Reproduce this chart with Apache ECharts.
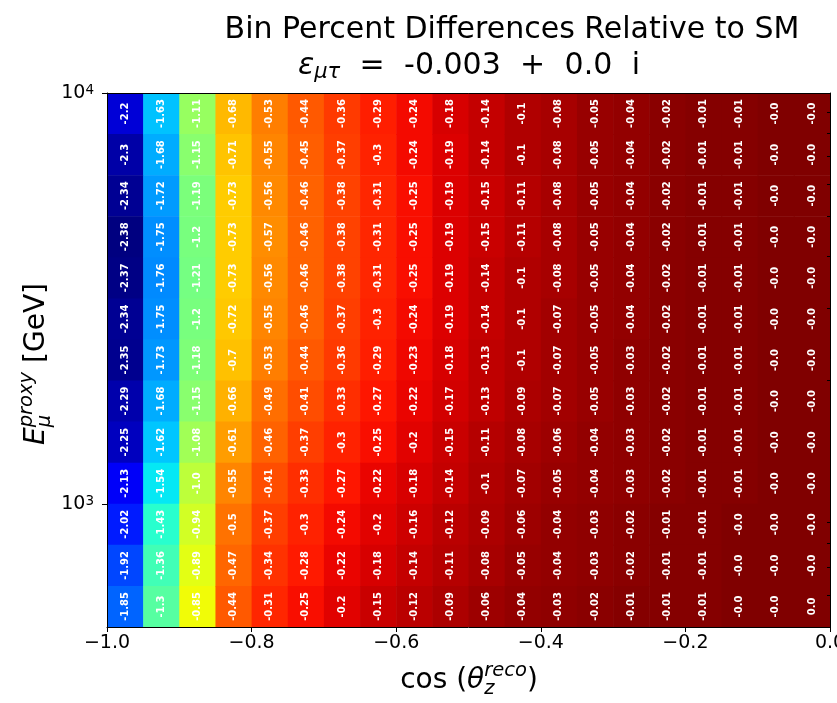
<!DOCTYPE html>
<html><head><meta charset="utf-8">
<script src="https://cdn.jsdelivr.net/npm/echarts@6/dist/echarts.min.js"></script>
<style>html,body{margin:0;padding:0;background:#fff}#c{width:837px;height:703px}</style>
</head><body><div id="c"></div>
<script>
// ---- data ----
const cosEdges = [-1.0,-0.95,-0.9,-0.85,-0.8,-0.75,-0.7,-0.65,-0.6,-0.55,-0.5,-0.45,-0.4,-0.35,-0.3,-0.25,-0.2,-0.15,-0.1,-0.05,0.0];
const logEnergyEdges = [2.7,2.8,2.9,3.0,3.1,3.2,3.3,3.4,3.5,3.6,3.7,3.8,3.9,4.0];
const yMajorTicks = [1000, 10000];
const yMinorTicks = [600,700,800,900,2000,3000,4000,5000,6000,7000,8000,9000];
const xTicks = [-1.0,-0.8,-0.6,-0.4,-0.2,0.0];
// each column listed from the top row (highest energy) to the bottom row
const col00 = [-2.2,-2.3,-2.34,-2.38,-2.37,-2.34,-2.35,-2.29,-2.25,-2.13,-2.02,-1.92,-1.85];
const col01 = [-1.63,-1.68,-1.72,-1.75,-1.76,-1.75,-1.73,-1.68,-1.62,-1.54,-1.43,-1.36,-1.3];
const col02 = [-1.11,-1.15,-1.19,-1.2,-1.21,-1.2,-1.18,-1.15,-1.08,-1.0,-0.94,-0.89,-0.85];
const col03 = [-0.68,-0.71,-0.73,-0.73,-0.73,-0.72,-0.7,-0.66,-0.61,-0.55,-0.5,-0.47,-0.44];
const col04 = [-0.53,-0.55,-0.56,-0.57,-0.56,-0.55,-0.53,-0.49,-0.46,-0.41,-0.37,-0.34,-0.31];
const col05 = [-0.44,-0.45,-0.46,-0.46,-0.46,-0.46,-0.44,-0.41,-0.37,-0.33,-0.3,-0.28,-0.25];
const col06 = [-0.36,-0.37,-0.38,-0.38,-0.38,-0.37,-0.36,-0.33,-0.3,-0.27,-0.24,-0.22,-0.2];
const col07 = [-0.29,-0.3,-0.31,-0.31,-0.31,-0.3,-0.29,-0.27,-0.25,-0.22,-0.2,-0.18,-0.15];
const col08 = [-0.24,-0.24,-0.25,-0.25,-0.25,-0.24,-0.23,-0.22,-0.2,-0.18,-0.16,-0.14,-0.12];
const col09 = [-0.18,-0.19,-0.19,-0.19,-0.19,-0.19,-0.18,-0.17,-0.15,-0.14,-0.12,-0.11,-0.09];
const col10 = [-0.14,-0.14,-0.15,-0.15,-0.14,-0.14,-0.13,-0.13,-0.11,-0.1,-0.09,-0.08,-0.06];
const col11 = [-0.1,-0.1,-0.11,-0.11,-0.1,-0.1,-0.1,-0.09,-0.08,-0.07,-0.06,-0.05,-0.04];
const col12 = [-0.08,-0.08,-0.08,-0.08,-0.08,-0.07,-0.07,-0.07,-0.06,-0.05,-0.04,-0.04,-0.03];
const col13 = [-0.05,-0.05,-0.05,-0.05,-0.05,-0.05,-0.05,-0.05,-0.04,-0.04,-0.03,-0.03,-0.02];
const col14 = [-0.04,-0.04,-0.04,-0.04,-0.04,-0.04,-0.03,-0.03,-0.03,-0.03,-0.02,-0.02,-0.01];
const col15 = [-0.02,-0.02,-0.02,-0.02,-0.02,-0.02,-0.02,-0.02,-0.02,-0.02,-0.01,-0.01,-0.01];
const col16 = [-0.01,-0.01,-0.01,-0.01,-0.01,-0.01,-0.01,-0.01,-0.01,-0.01,-0.01,-0.01,-0.01];
const col17 = [-0.01,-0.01,-0.01,-0.01,-0.01,-0.01,-0.01,-0.01,-0.01,-0.01,-0.0,-0.0,-0.0];
const col18 = [-0.0,-0.0,-0.0,-0.0,-0.0,-0.0,-0.0,-0.0,-0.0,-0.0,-0.0,-0.0,-0.0];
const col19 = [-0.0,-0.0,-0.0,-0.0,-0.0,-0.0,-0.0,-0.0,-0.0,-0.0,-0.0,-0.0,0.0];
const colorMin = -2.38, colorMax = 0.0;

// ---- build ----
const columns = [col00,col01,col02,col03,col04,col05,col06,col07,col08,col09,col10,col11,col12,col13,col14,col15,col16,col17,col18,col19];
const nRows = logEnergyEdges.length - 1;
const cells = [];
columns.forEach((col, c) => {
  col.forEach((v, r) => {
    const rb = nRows - 1 - r;
    cells.push([cosEdges[c], cosEdges[c+1], Math.pow(10, logEnergyEdges[rb]), Math.pow(10, logEnergyEdges[rb+1]), v]);
  });
});
function fmt(v){
  const neg = v < 0 || Object.is(v, -0);
  const a = Math.abs(v);
  return (neg ? '-' : '') + (a % 1 === 0 ? a.toFixed(1) : String(a));
}
// matplotlib jet colormap
function seg(pts, t){
  for (let i=1;i<pts.length;i++){ if (t <= pts[i][0]) { const [x0,y0]=pts[i-1],[x1,y1]=pts[i]; return y0+(y1-y0)*(t-x0)/(x1-x0);} }
  return pts[pts.length-1][1];
}
const R=[[0,0],[0.35,0],[0.66,1],[0.89,1],[1,0.5]], G=[[0,0],[0.125,0],[0.375,1],[0.64,1],[0.91,0],[1,0]], B=[[0,0.5],[0.11,1],[0.34,1],[0.65,0],[1,0]];
const jet = [];
for (let i=0;i<=64;i++){ const t=i/64; const h=x=>Math.round(Math.max(0,Math.min(1,x))*255).toString(16).padStart(2,'0'); jet.push('#'+h(seg(R,t))+h(seg(G,t))+h(seg(B,t))); }

const FONT = 'DejaVu Sans';
const mctx = document.createElement('canvas').getContext('2d');
function tw(str, size, italic){ mctx.font = (italic?'italic ':'') + size + 'px "' + FONT + '"'; return mctx.measureText(str).width; }
function T(text, x, y, size, italic, extra){ return Object.assign({type:'text', x, y, style:{text, fill:'#000', font:(italic?'italic ':'')+size+'px "'+FONT+'"', align:'left', verticalAlign:'middle'}}, extra||{}); }

const chart = echarts.init(document.getElementById('c'), null, {renderer:'canvas', width:837, height:703});

// title pieces
const TS = 30, TSS = 21;
const title1 = 'Bin Percent Differences Relative to SM';
const t2a = 'ε', t2b = 'μτ';
const t2words = ['=', '-0.003', '+', '0.0', 'i'];
const t2W = 342, t2cx = 469;
let t2sum = tw(t2a,TS,true) + tw(t2b,TSS,true);
t2words.forEach(w => t2sum += tw(w,TS,false));
const t2gap = (t2W - t2sum) / t2words.length;
const title2 = [];
let tx = t2cx - t2W/2;
title2.push(T(t2a, tx, 66, TS, true)); tx += tw(t2a,TS,true);
title2.push(T(t2b, tx, 73, TSS, true)); tx += tw(t2b,TSS,true);
t2words.forEach(w => { tx += t2gap; title2.push(T(w, tx, 66, TS, false)); tx += tw(w,TS,false); });
// x label pieces
const LS = 28, LSS = 19.5;
const xa = 'cos (', xb = 'θ', xsub = 'z', xsup = 'reco', xc = ')';
const wxa = tw(xa,LS,false), wxb = tw(xb,LS,true), wsup = Math.max(tw(xsub,LSS,true), tw(xsup,LSS,true));
const wx = wxa + wxb + wsup + tw(xc,LS,false);
const lx0 = 469 - wx/2;
// y label pieces
const ya = 'E', ysub = 'μ', ysup = 'proxy', yc = ' [GeV]';
const wya = tw(ya,LS,true), wysup = Math.max(tw(ysub,LSS,true), tw(ysup,LSS,true));
const wy = wya + wysup + tw(yc,LS,false);
const ly0 = -wy/2;

const option = {
  backgroundColor:'#fff',
  animation:false,
  grid:{left:107, right:7, top:93, bottom:76, containLabel:false, outerBoundsMode:'none'},
  visualMap:{type:'continuous', show:false, dimension:4, min:colorMin, max:colorMax, inRange:{color:jet}, seriesIndex:0},
  xAxis:[
    {type:'value', min:-1, max:0, interval:0.2, position:'bottom', z:10,
     axisLine:{show:true, onZero:false, lineStyle:{color:'#000', width:1}},
     axisTick:{show:true, length:5, lineStyle:{color:'#000', width:1}, customValues:xTicks},
     axisLabel:{show:true, color:'#000', fontSize:19, fontFamily:FONT, margin:7, customValues:xTicks, hideOverlap:false,
       formatter:v => (v<0?'\u2212':'') + Math.abs(v).toFixed(1)},
     splitLine:{show:false}},
    {type:'value', min:-1, max:0, position:'top', z:10,
     axisLine:{show:true, onZero:false, lineStyle:{color:'#000', width:1}},
     axisTick:{show:false}, axisLabel:{show:false}, splitLine:{show:false}}
  ],
  yAxis:[
    {type:'log', logBase:10, min:Math.pow(10,logEnergyEdges[0]), max:Math.pow(10,logEnergyEdges[nRows]), position:'left', z:10,
     axisLine:{show:true, onZero:false, lineStyle:{color:'#000', width:1}},
     axisTick:{show:true, length:5, lineStyle:{color:'#000', width:1}, customValues:yMajorTicks},
     axisLabel:{show:true, color:'#000', fontFamily:FONT, margin:13, customValues:yMajorTicks,
       formatter:v => '{b|10}{s|' + (v >= 9999 ? '4' : '3') + '}',
       rich:{b:{fontSize:19, fontFamily:FONT, color:'#000', lineHeight:19, verticalAlign:'bottom'},
             s:{fontSize:13.5, fontFamily:FONT, color:'#000', lineHeight:14, padding:[0,0,12,0], verticalAlign:'top'}}},
     splitLine:{show:false}, minorTick:{show:false}},
    {type:'log', logBase:10, min:Math.pow(10,logEnergyEdges[0]), max:Math.pow(10,logEnergyEdges[nRows]), position:'left', z:10,
     axisLine:{show:false},
     axisTick:{show:true, length:3, lineStyle:{color:'#000', width:1}, customValues:yMinorTicks},
     axisLabel:{show:false}, splitLine:{show:false}},
    {type:'log', logBase:10, min:Math.pow(10,logEnergyEdges[0]), max:Math.pow(10,logEnergyEdges[nRows]), position:'right', z:10,
     axisLine:{show:true, onZero:false, lineStyle:{color:'#000', width:1}},
     axisTick:{show:false}, axisLabel:{show:false}, splitLine:{show:false}}
  ],
  series:[{
    type:'custom', coordinateSystem:'cartesian2d', xAxisIndex:0, yAxisIndex:0,
    encode:{x:[0,1], y:[2,3]}, clip:true,
    data: cells,
    renderItem:(params, api) => {
      const p0 = api.coord([api.value(0), api.value(2)]);
      const p1 = api.coord([api.value(1), api.value(3)]);
      const color = api.visual('color');
      const v = cells[params.dataIndex][4];
      return {type:'group', children:[
        {type:'rect', shape:{x:p0[0], y:p1[1], width:p1[0]-p0[0]+0.6, height:p0[1]-p1[1]+0.6}, style:{fill:color}},
        {type:'text', x:(p0[0]+p1[0])/2, y:(p0[1]+p1[1])/2, rotation:Math.PI/2,
         style:{text:fmt(v), fill:'#ffffff', font:'bold 10px "'+FONT+'"', align:'center', verticalAlign:'middle'}}
      ]};
    }
  }],
  graphic:[
    {type:'text', x:512, y:30, style:{text:title1, fill:'#000', font:TS+'px "'+FONT+'"', align:'center', verticalAlign:'middle'}},
    ...title2,
    // x label
    T(xa, lx0, 681, LS, false),
    T(xb, lx0 + wxa, 681, LS, true),
    T(xsub, lx0 + wxa + wxb, 689, LSS, true),
    T(xsup, lx0 + wxa + wxb, 671, LSS, true),
    T(xc, lx0 + wxa + wxb + wsup, 681, LS, false),
    // y label (rotated)
    {type:'group', x:37, y:364, rotation:Math.PI/2, children:[
      T(ya, ly0, 0, LS, true),
      T(ysub, ly0 + wya, 8, LSS, true),
      T(ysup, ly0 + wya, -10, LSS, true),
      T(yc, ly0 + wya + wysup, 0, LS, false)
    ]}
  ]
};
chart.setOption(option);
</script>
</body></html>
